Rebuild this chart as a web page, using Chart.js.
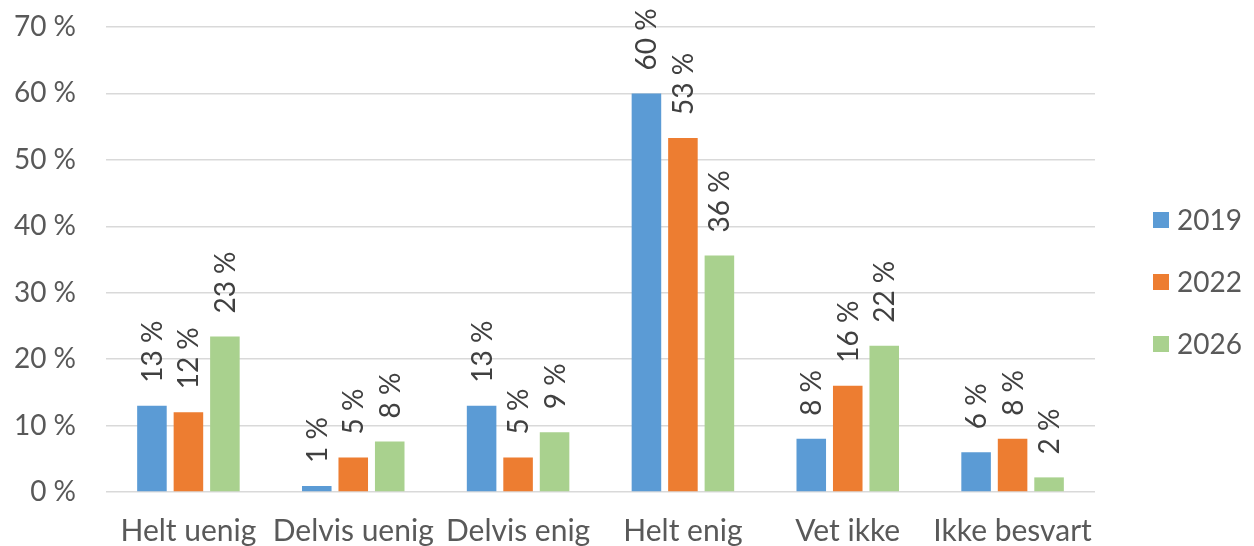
<!DOCTYPE html>
<html>
<head>
<meta charset="utf-8">
<script src="https://cdn.jsdelivr.net/npm/chart.js@4/dist/chart.umd.min.js"></script>
<style>
  html, body { margin: 0; padding: 0; background: #fff; overflow: hidden; }
  #wrap { width: 1254px; height: 546px; position: relative; }
</style>
</head>
<body>
<div id="wrap"><canvas id="svarChart"></canvas></div>
<script>
  /* data */
  const kategorier = ["Helt uenig", "Delvis uenig", "Delvis enig", "Helt enig", "Vet ikke", "Ikke besvart"];
  const aar = ["2019", "2022", "2026"];
  const svar2019 = [13, 0.9, 13, 60, 8, 6];
  const svar2022 = [12, 5.2, 5.2, 53.3, 16, 8];
  const svar2026 = [23.4, 7.6, 9, 35.6, 22, 2.2];
  const yTicks = [0, 10, 20, 30, 40, 50, 60, 70];

  const farger = ["#5B9BD5", "#ED7D31", "#A9D18E"];
  const FONT = "Lato, 'Open Sans', sans-serif";

  // rotated value labels above each bar
  const verdiEtiketter = {
    id: "verdiEtiketter",
    afterDatasetsDraw(chart) {
      const ctx = chart.ctx;
      ctx.save();
      ctx.font = "28px " + FONT;
      ctx.fillStyle = "#404040";
      ctx.textAlign = "left";
      ctx.textBaseline = "alphabetic";
      chart.data.datasets.forEach((ds, i) => {
        chart.getDatasetMeta(i).data.forEach((bar, j) => {
          const txt = Math.round(ds.data[j]) + " %";
          ctx.save();
          ctx.translate(bar.x + 10, bar.y - 23);
          ctx.rotate(-Math.PI / 2);
          ctx.fillText(txt, 0, 0);
          ctx.restore();
        });
      });
      ctx.restore();
    }
  };

  // legend at right side
  const hoyreLegende = {
    id: "hoyreLegende",
    afterDraw(chart) {
      const ctx = chart.ctx;
      ctx.save();
      ctx.font = "28px " + FONT;
      ctx.textBaseline = "middle";
      chart.data.datasets.forEach((ds, i) => {
        const y = 220 + i * 62;
        ctx.fillStyle = ds.backgroundColor;
        ctx.fillRect(1153, y - 8, 16, 16);
        ctx.fillStyle = "#595959";
        ctx.fillText(ds.label, 1177, y + 1);
      });
      ctx.restore();
    }
  };

  const ctx = document.getElementById("svarChart").getContext("2d");

  new Chart(ctx, {
    type: "bar",
    data: {
      labels: kategorier,
      datasets: [
        { label: aar[0], data: svar2019, backgroundColor: farger[0] },
        { label: aar[1], data: svar2022, backgroundColor: farger[1] },
        { label: aar[2], data: svar2026, backgroundColor: farger[2] }
      ]
    },
    options: {
      responsive: true,
      maintainAspectRatio: false,
      animation: false,
      layout: { padding: { top: 27, right: 159, bottom: 0, left: 0 } },
      datasets: {
        bar: { categoryPercentage: 0.664, barPercentage: 0.81 }
      },
      plugins: {
        legend: { display: false },
        tooltip: { enabled: false }
      },
      scales: {
        x: {
          grid: { display: false, drawTicks: false },
          border: { display: false },
          ticks: {
            color: "#595959",
            font: { family: FONT, size: 30 },
            padding: 21,
            maxRotation: 0,
            autoSkip: false
          },
          afterFit: s => { s.height = 54; }
        },
        y: {
          min: 0,
          max: 70,
          afterBuildTicks: s => { s.ticks = yTicks.map(v => ({ value: v })); },
          grid: { color: "#D9D9D9", lineWidth: 1.5, drawTicks: false },
          border: { display: false },
          ticks: {
            color: "#595959",
            font: { family: FONT, size: 28 },
            padding: 30,
            callback: v => v + " %"
          },
          afterFit: s => {
            s.width = 106;
            s.paddingTop = 0;
            s.paddingBottom = 0;
          }
        }
      }
    },
    plugins: [verdiEtiketter, hoyreLegende]
  });
</script>
</body>
</html>
